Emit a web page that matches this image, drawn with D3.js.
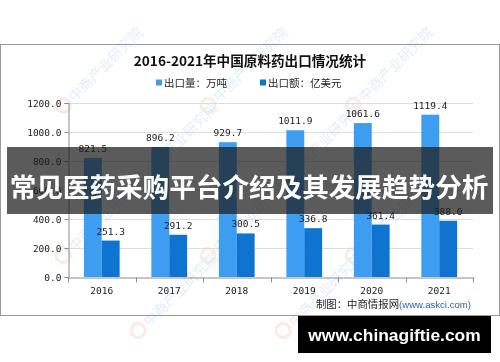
<!DOCTYPE html>
<html>
<head>
<meta charset="utf-8">
<script src="https://cdn.jsdelivr.net/npm/d3@7"></script>
<style>
  html, body { margin: 0; padding: 0; background: #fff; }
  svg { display: block; }
</style>
</head>
<body>
<div id="chart"></div>
<script>
/* global d3 */
const years       = ['2016', '2017', '2018', '2019', '2020', '2021'];
const seriesNames = ['出口量：万吨', '出口额：亿美元'];
const exportVol   = [821.5, 896.2, 929.7, 1011.9, 1061.6, 1119.4];
const exportVal   = [251.3, 291.2, 300.5, 336.8, 361.4, 388.0];
const yTicks      = [0, 200, 400, 600, 800, 1000, 1200];

(function () {
  const W = 500, H = 362;
  const colors = ['#3d9df0', '#0f74d0'];
  const mono = '"DejaVu Sans Mono", "Liberation Mono", monospace';
  const cjk  = '"Noto Sans CJK SC", "Noto Sans", sans-serif';

  const svg = d3.select('#chart').append('svg')
    .attr('width', W).attr('height', H);

  /* -------- chart frame -------- */
  svg.append('rect')
    .attr('x', 0.5).attr('y', 44.5).attr('width', 499).attr('height', 271)
    .attr('fill', '#fff').attr('stroke', '#9a9a9a');

  /* -------- watermark tiles (faint) -------- */
  const wm = svg.append('g').attr('opacity', 0.16);
  [[95, 75], [240, 75], [385, 75], [170, 150], [315, 150],
   [95, 225], [240, 225], [385, 225], [170, 300], [315, 300]]
    .forEach(([cx, cy]) => {
      const t = wm.append('g').attr('transform', `translate(${cx},${cy}) rotate(-45)`);
      t.append('circle').attr('cx', -44).attr('cy', -1).attr('r', 7)
        .attr('fill', 'none').attr('stroke', '#f08040').attr('stroke-width', 3);
      t.append('text').attr('x', -34).attr('y', 5)
        .style('font-family', cjk).style('font-size', '14px')
        .attr('fill', '#3a8ad8').text('中商产业研究院');
    });

  /* -------- title + legend -------- */
  svg.append('text')
    .attr('x', 250).attr('y', 66).attr('text-anchor', 'middle')
    .style('font-family', cjk).style('font-size', '13.6px').style('font-weight', 700)
    .attr('fill', '#111').text('2016-2021年中国原料药出口情况统计');

  const legend = svg.append('g');
  [[156, 0], [260, 1]].forEach(([lx, i]) => {
    legend.append('rect').attr('x', lx).attr('y', 79.5).attr('width', 6).attr('height', 6)
      .attr('fill', colors[i]);
    legend.append('text').attr('x', lx + 8).attr('y', 86.5)
      .style('font-family', cjk).style('font-size', '10.5px')
      .attr('fill', '#222').text(seriesNames[i]);
  });

  /* -------- scales -------- */
  const plot = { left: 68, right: 473, top: 103, bottom: 277 };
  const x0 = d3.scaleBand().domain(years).range([plot.left, plot.right])
    .paddingInner(0.47).paddingOuter(0.235);
  const x1 = d3.scaleBand().domain([0, 1]).range([0, x0.bandwidth()]);
  const y  = d3.scaleLinear().domain([0, 1200]).range([plot.bottom, plot.top]);

  /* -------- grid -------- */
  svg.append('g').selectAll('line').data(yTicks.slice(1)).enter().append('line')
    .attr('x1', plot.left).attr('x2', plot.right)
    .attr('y1', d => Math.round(y(d)) + 0.5).attr('y2', d => Math.round(y(d)) + 0.5)
    .attr('stroke', '#dcdcdc');

  /* -------- bars -------- */
  const rows = years.map((yr, i) => ({ year: yr, vals: [exportVol[i], exportVal[i]] }));
  const groups = svg.append('g').selectAll('g').data(rows).enter().append('g')
    .attr('transform', d => `translate(${x0(d.year)},0)`);

  groups.selectAll('rect').data(d => d.vals.map((v, k) => ({ k, v }))).enter().append('rect')
    .attr('x', d => x1(d.k)).attr('width', x1.bandwidth())
    .attr('y', d => y(d.v)).attr('height', d => y(0) - y(d.v))
    .attr('fill', d => colors[d.k]);

  groups.selectAll('text').data(d => d.vals.map((v, k) => ({ k, v }))).enter().append('text')
    .attr('x', d => x1(d.k) + x1.bandwidth() / 2)
    .attr('y', d => y(d.v) - 6)
    .attr('text-anchor', 'middle')
    .style('font-family', mono).style('font-size', '9.5px')
    .attr('fill', '#222').text(d => d.v.toFixed(1));

  /* -------- axes -------- */
  const yAxisG = svg.append('g').attr('transform', `translate(${plot.left + 0.5},0)`)
    .call(d3.axisLeft(y).tickValues(yTicks).tickFormat(d3.format('.1f')).tickSize(4).tickPadding(3));
  yAxisG.select('.domain').attr('stroke', '#8c8c8c');
  yAxisG.selectAll('line').attr('stroke', '#8c8c8c');
  yAxisG.selectAll('text').style('font-family', mono).style('font-size', '9.5px').attr('fill', '#222');

  const xAxisG = svg.append('g').attr('transform', `translate(0,${plot.bottom + 0.5})`)
    .call(d3.axisBottom(x0).tickSize(0).tickPadding(10));
  xAxisG.select('.domain').attr('stroke', '#8c8c8c');
  xAxisG.selectAll('text').style('font-family', mono).style('font-size', '9.5px').attr('fill', '#222');
  // category boundary ticks
  xAxisG.selectAll('line.bound').data(d3.range(years.length + 1)).enter().append('line')
    .attr('class', 'bound')
    .attr('x1', i => Math.round(plot.left + i * x0.step()) + 0.5)
    .attr('x2', i => Math.round(plot.left + i * x0.step()) + 0.5)
    .attr('y1', 0).attr('y2', 5).attr('stroke', '#8c8c8c');

  /* -------- source -------- */
  const src = svg.append('text').attr('x', 471).attr('y', 308).attr('text-anchor', 'end');
  src.append('tspan').style('font-family', cjk).style('font-size', '10.4px')
    .attr('fill', '#222').text('制图：中商情报网');
  src.append('tspan').style('font-family', '"Liberation Sans", Arial, sans-serif')
    .style('font-size', '9.6px').attr('fill', '#2f5fa8').text('(www.askci.com)');

  /* -------- overlay banner -------- */
  svg.append('rect').attr('x', 7).attr('y', 147).attr('width', 486).attr('height', 67)
    .attr('fill', 'rgba(28,28,28,0.72)');
  svg.append('text').attr('x', 249).attr('y', 185)
    .attr('text-anchor', 'middle').attr('dominant-baseline', 'central')
    .style('font-family', cjk).style('font-size', '26.6px').style('font-weight', 700)
    .attr('fill', '#fff').text('常见医药采购平台介绍及其发展趋势分析');

  /* -------- site badge -------- */
  svg.append('rect').attr('x', 298).attr('y', 316).attr('width', 193).attr('height', 37)
    .attr('fill', '#000');
  svg.append('text').attr('x', 394.5).attr('y', 335)
    .attr('text-anchor', 'middle').attr('dominant-baseline', 'central')
    .style('font-family', '"Liberation Sans", Arial, sans-serif')
    .style('font-size', '17.4px').style('font-weight', 700)
    .attr('fill', '#fff').text('www.chinagiftie.com');
})();
</script>
</body>
</html>
